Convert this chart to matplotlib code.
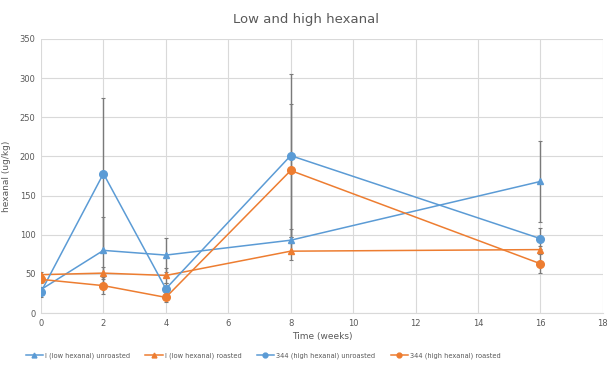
import matplotlib
matplotlib.use("Agg")
from matplotlib import pyplot as plt
from matplotlib.lines import Line2D

weeks = [0, 2, 4, 8, 16]

low_unroasted = [30, 80, 74, 93, 168]
low_unroasted_err = [3, 43, 22, 14, 52]
low_roasted = [49, 51, 48, 79, 81]
low_roasted_err = [4, 8, 9, 11, 5]
high_unroasted = [27, 178, 31, 201, 95]
high_unroasted_err = [6, 97, 8, 104, 13]
high_roasted = [43, 35, 20, 182, 63]
high_roasted_err = [5, 11, 6, 85, 12]

labels = ["I (low hexanal) unroasted", "I (low hexanal) roasted",
          "344 (high hexanal) unroasted", "344 (high hexanal) roasted"]

blue = "#5B9BD5"
orange = "#ED7D31"
text_col = "#595959"

fig = plt.figure(figsize=(6.12, 3.67), dpi=100)
ax = fig.add_axes([0.067, 0.147, 0.918, 0.747])

series = [
    (low_unroasted, low_unroasted_err, blue, "^", 5),
    (low_roasted, low_roasted_err, orange, "^", 5),
    (high_unroasted, high_unroasted_err, blue, "o", 5.5),
    (high_roasted, high_roasted_err, orange, "o", 5.5),
]

handles = []
for (vals, err, col, mk, ms), lab in zip(series, labels):
    ax.errorbar(weeks, vals, yerr=err, color=col, marker=mk, markersize=ms,
                linewidth=1.1, ecolor="#7A7A7A", elinewidth=1.0, capsize=1.5,
                capthick=0.8, zorder=3)
    handles.append(Line2D([], [], color=col, marker=mk, markersize=3.5,
                          linewidth=1.1, label=lab))

ax.set_xlim(0, 18)
ax.set_ylim(0, 350)
ax.set_xticks(range(0, 19, 2))
ax.set_yticks(range(0, 351, 50))
ax.grid(True, color="#D9D9D9", linewidth=0.8)
ax.set_axisbelow(True)
for s in ["top", "right", "left"]:
    ax.spines[s].set_visible(False)
ax.spines["bottom"].set_color("#D9D9D9")
ax.tick_params(length=0, labelsize=6, colors=text_col, pad=4)

ax.set_xlabel("Time (weeks)", fontsize=6.5, color=text_col, labelpad=3)
ax.set_ylabel("hexanal (ug/kg)", fontsize=6.5, color=text_col, labelpad=6)
fig.suptitle("Low and high hexanal", fontsize=9.5, color=text_col, y=0.965)

fig.legend(handles=handles, loc="center", bbox_to_anchor=(0.43, 0.03), ncol=4,
           frameon=False, fontsize=4.8, labelcolor=text_col, handlelength=2.6,
           columnspacing=2.3, handletextpad=0.3)

fig.savefig("out.png", dpi=100)
